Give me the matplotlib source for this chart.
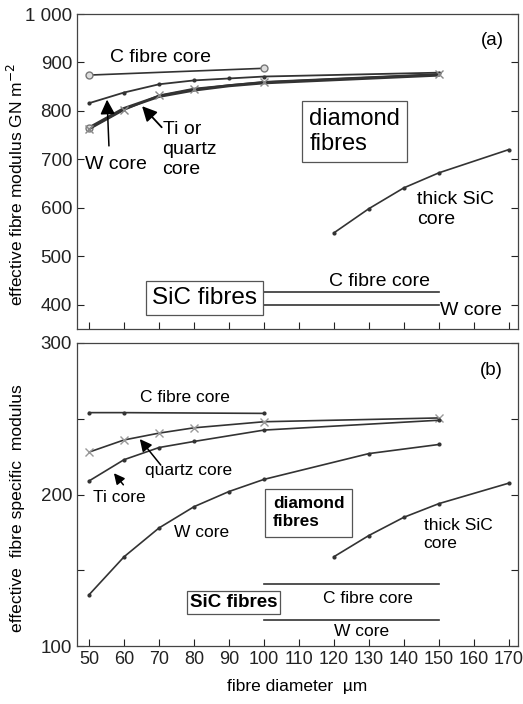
import numpy as np
import matplotlib
matplotlib.use('Agg')
import matplotlib.pyplot as plt

plt.rcParams['font.family'] = ['Liberation Sans', 'DejaVu Sans']

# ---- panel (a): effective fibre modulus, GN m-2
d_a_c = [50, 100]
E_a_c = [874, 888]
d_a_w = [50, 60, 70, 80, 90, 100, 150]
E_a_w = [816, 838, 855, 863, 867, 871, 879]
d_a_ti = [50, 60, 70, 80, 90, 100, 150]
E_a_ti = [765, 805, 830, 843, 852, 858, 874]
d_a_q = [50, 60, 70, 80, 100, 150]
E_a_q = [762, 802, 832, 846, 860, 876]
d_a_thick = [120, 130, 140, 150, 170]
E_a_thick = [548, 598, 641, 672, 720]
d_sic = [100, 150]
E_a_sic_c = [425, 425]
E_a_sic_w = [400, 400]

# ---- panel (b): effective fibre specific modulus
d_b_c = [50, 60, 100]
S_b_c = [254, 254, 253.5]
d_b_q = [50, 60, 70, 80, 100, 150]
S_b_q = [228, 236, 240.5, 244, 248, 250.5]
d_b_ti = [50, 60, 70, 80, 100, 150]
S_b_ti = [209, 223, 231, 235, 242.5, 249]
d_b_w = [50, 60, 70, 80, 90, 100, 130, 150]
S_b_w = [134, 159, 178, 192, 202, 210, 227, 233]
d_b_thick = [120, 130, 140, 150, 170]
S_b_thick = [159, 173, 185, 194, 207.5]
S_b_sic_c = [141, 141]
S_b_sic_w = [117, 117]

xticks = np.arange(50, 171, 10)
lc = '#333333'
fa = 14     # text size, panel (a)
fb = 12.5   # text size, panel (b)

fig = plt.figure(figsize=(5.23, 7.04), dpi=100)
ax0 = fig.add_axes([0.147, 0.533, 0.843, 0.447])
ax1 = fig.add_axes([0.147, 0.082, 0.843, 0.431])

for ax in (ax0, ax1):
    ax.set_xlim(46.5, 172.6)
    ax.set_xticks(xticks)
    ax.tick_params(direction='in', length=5, width=0.8, colors='#222222', right=True)
    for s in ax.spines.values():
        s.set_color('#444444')
        s.set_linewidth(0.9)

# panel (a)
ax0.plot(d_a_c, E_a_c, '-o', color=lc, lw=1.2, ms=5, mfc='#dddddd', mec='#777777')
ax0.plot(d_a_w, E_a_w, '-', marker='.', color=lc, lw=1.3, ms=4)
ax0.plot(d_a_ti, E_a_ti, '-', color=lc, lw=2.2)
ax0.plot(d_a_ti[:1], E_a_ti[:1], 'o', ms=5, mfc='#dddddd', mec='#777777')
ax0.plot(d_a_q, E_a_q, '-', marker='x', color=lc, lw=1.3, ms=6, mec='#888888')
ax0.plot(d_a_thick, E_a_thick, '-', marker='.', color=lc, lw=1.2, ms=4)
ax0.plot(d_sic, E_a_sic_c, '-', color=lc, lw=1.2)
ax0.plot(d_sic, E_a_sic_w, '-', color=lc, lw=1.2)

ax0.set_ylim(350, 1000)
ax0.set_yticks([400, 500, 600, 700, 800, 900, 1000])
ax0.set_yticklabels(['400', '500', '600', '700', '800', '900', '1 000'], fontsize=13.5)
ax0.set_xticklabels([])
ax0.set_ylabel('effective fibre modulus GN m$^{-2}$', fontsize=12.5)
ax0.yaxis.set_label_coords(-0.116, 0.457)

ax0.text(56, 911, 'C fibre core', fontsize=fa, va='center')
ax0.text(48.9, 689, 'W core', fontsize=fa, va='center')
ax0.text(71, 720, 'Ti or\nquartz\ncore', fontsize=fa, va='center', linespacing=1.25)
ax0.annotate('', xy=(55.1, 829), xytext=(55.7, 722),
             arrowprops=dict(arrowstyle='-|>', color='k', lw=1.1, mutation_scale=22))
ax0.annotate('', xy=(64.6, 814), xytext=(71.3, 762),
             arrowprops=dict(arrowstyle='-|>', color='k', lw=1.3, mutation_scale=22))
ax0.text(113, 757, 'diamond\nfibres', fontsize=17, va='center', linespacing=1.15,
         bbox=dict(boxstyle='square,pad=0.3', fc='white', ec='#555555', lw=0.9))
ax0.text(143.7, 596, 'thick SiC\ncore', fontsize=fa, va='center', linespacing=1.25)
ax0.text(82.9, 414, 'SiC fibres', fontsize=17.5, ha='center', va='center',
         bbox=dict(boxstyle='square,pad=0.25', fc='white', ec='#555555', lw=0.9))
ax0.text(133, 447, 'C fibre core', fontsize=fa, ha='center', va='center')
ax0.text(150.3, 388, 'W core', fontsize=fa, va='center')
ax0.text(165.4, 946, '(a)', fontsize=13.5, ha='center', va='center')

# panel (b)
ax1.plot(d_b_c, S_b_c, '-', marker='.', color=lc, lw=1.2, ms=4)
ax1.plot(d_b_q, S_b_q, '-', marker='x', color=lc, lw=1.2, ms=6, mec='#999999')
ax1.plot(d_b_ti, S_b_ti, '-', marker='.', color=lc, lw=1.2, ms=4)
ax1.plot(d_b_w, S_b_w, '-', marker='.', color=lc, lw=1.2, ms=4)
ax1.plot(d_b_thick, S_b_thick, '-', marker='.', color=lc, lw=1.2, ms=4)
ax1.plot(d_sic, S_b_sic_c, '-', color=lc, lw=1.2)
ax1.plot(d_sic, S_b_sic_w, '-', color=lc, lw=1.2)

ax1.set_ylim(100, 300)
ax1.set_yticks([100, 150, 200, 250, 300])
ax1.set_yticklabels(['100', '', '200', '', '300'], fontsize=13.5)
ax1.set_xticklabels([str(v) for v in xticks], fontsize=13)
ax1.set_ylabel('effective  fibre specific  modulus', fontsize=12.6)
ax1.yaxis.set_label_coords(-0.118, 0.455)
ax1.set_xlabel('fibre diameter  \u00b5m', fontsize=12.5, labelpad=8)

ax1.text(77.4, 264, 'C fibre core', fontsize=fb, ha='center', va='center')
ax1.text(78.3, 216, 'quartz core', fontsize=fb, ha='center', va='center')
ax1.text(58.6, 198, 'Ti core', fontsize=fb, ha='center', va='center')
ax1.text(82.3, 175, 'W core', fontsize=fb, ha='center', va='center')
ax1.annotate('', xy=(64, 238), xytext=(71, 218),
             arrowprops=dict(arrowstyle='-|>', color='k', lw=1.1, mutation_scale=18))
ax1.annotate('', xy=(56.6, 215.5), xytext=(60.3, 205),
             arrowprops=dict(arrowstyle='-|>', color='k', lw=1.1, mutation_scale=16))
ax1.text(102.6, 188, 'diamond\nfibres', fontsize=12.3, fontweight='bold', va='center',
         linespacing=1.25, bbox=dict(boxstyle='square,pad=0.45', fc='white', ec='#555555', lw=0.9))
ax1.text(145.7, 174, 'thick SiC\ncore', fontsize=fb, va='center', linespacing=1.25)
ax1.text(91.4, 129, 'SiC fibres', fontsize=13.5, fontweight='bold', ha='center', va='center',
         bbox=dict(boxstyle='square,pad=0.15', fc='white', ec='#555555', lw=0.9))
ax1.text(129.7, 131.7, 'C fibre core', fontsize=fb, ha='center', va='center')
ax1.text(127.9, 110, 'W core', fontsize=fb, ha='center', va='center')
ax1.text(165.1, 281.5, '(b)', fontsize=13.5, ha='center', va='center')

fig.savefig('out.png', dpi=100)
